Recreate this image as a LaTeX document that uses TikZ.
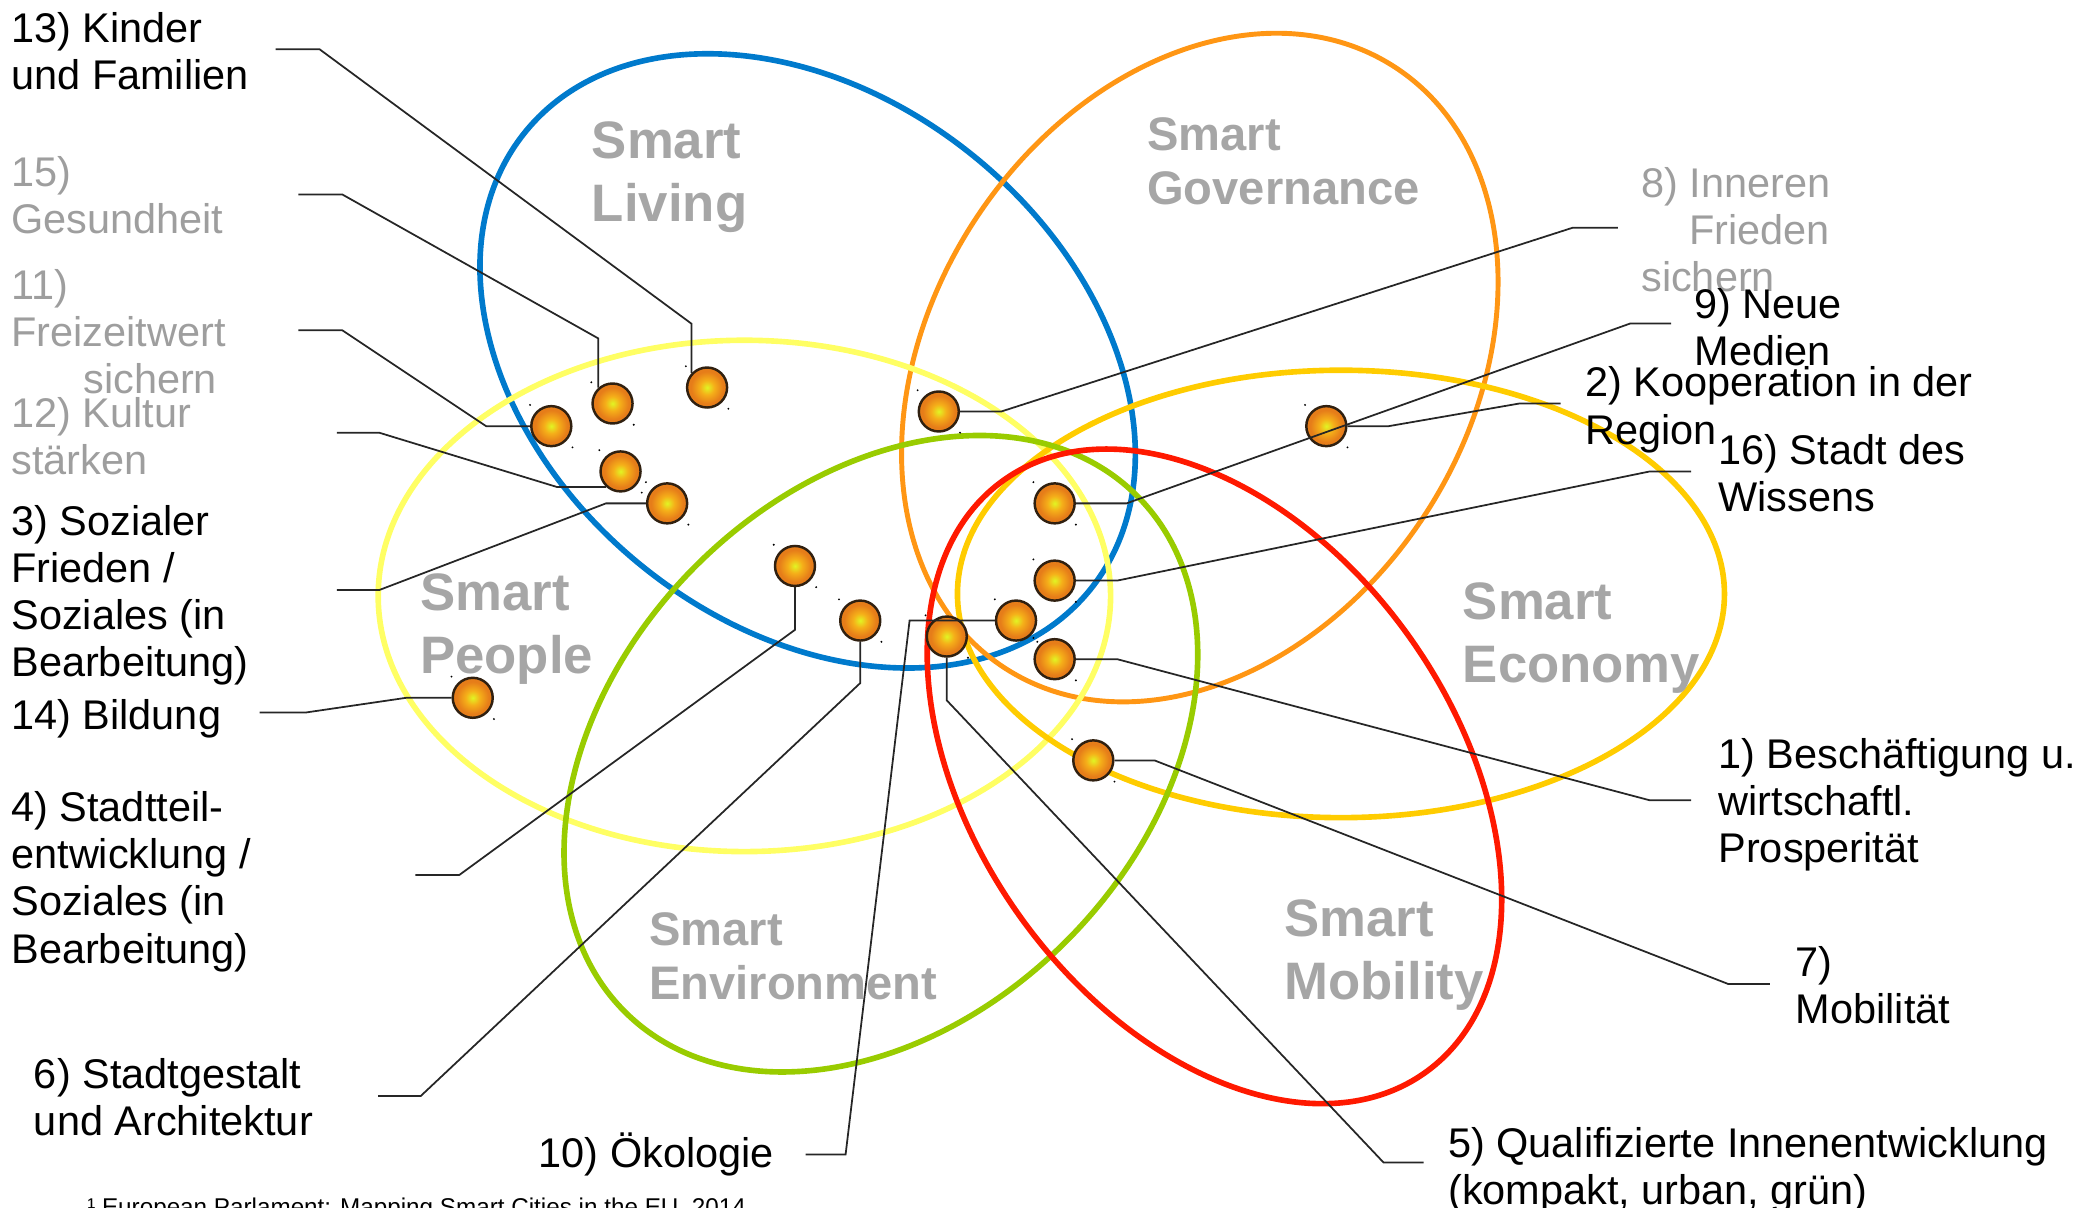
\documentclass[tikz,border=0pt]{standalone}
\usepackage{fontspec}
\setmainfont{Liberation Sans}
\definecolor{living}{RGB}{0,122,204}
\definecolor{governance}{RGB}{255,150,20}
\definecolor{people}{RGB}{255,255,100}
\definecolor{economy}{RGB}{255,204,0}
\definecolor{environment}{RGB}{153,204,0}
\definecolor{mobility}{RGB}{255,25,0}
\definecolor{catgray}{RGB}{166,166,166}
\definecolor{labgray}{RGB}{158,158,158}
\definecolor{dotin}{RGB}{225,245,35}
\definecolor{dotmid}{RGB}{245,175,25}
\definecolor{dotout}{RGB}{230,125,25}
\pgfdeclareradialshading{orb}{\pgfpoint{0bp}{0bp}}{color(0bp)=(dotin); color(9bp)=(dotmid);
  color(20bp)=(dotout); color(25bp)=(dotout); color(50bp)=(dotout)}
\tikzset{
  ring/.style= {line width=1.6pt},
  ball/.style= {draw=black!75!brown, circle, line width=0.7pt, minimum size=4mm, inner sep=0,
    shading=orb},
  lbl/.style= {anchor=north west, align=left, inner sep=0, font=\fontsize{11.8}{13.4}\selectfont},
  glbl/.style= {lbl, text=labgray},
  cat/.style= {anchor=north west, align=left, inner sep=0, text=catgray,
    font=\bfseries\fontsize{15}{18}\selectfont},
  smallcat/.style= {cat, font=\bfseries\fontsize{13.4}{15.3}\selectfont},
  lead/.style= {line width=0.5pt, black!85},
}

\begin{document}
\begin{tikzpicture}[x=0.13316mm, y=-0.13316mm]
  \useasboundingbox (0,0) rectangle (1568,907);

  \draw[ring, living, rotate around={-39:(606.5,271)}] (606.5,271) ellipse (273 and 198);
  \draw[ring, governance, line width=1.4pt, rotate around={57:(901,276)}] (901,276) ellipse (269 and 202);
  \draw[ring, people] (559,447.5) ellipse (275 and 192);
  \draw[ring, economy] (1007,446) ellipse (288 and 168);
  \draw[ring, environment, rotate around={45.4:(661.5,566)}] (661.5,566) ellipse (273 and 198);
  \draw[ring, mobility, rotate around={-54.6:(912,583)}] (912,583) ellipse (273 and 180);

  \node [cat] (living) at (444,91) {Smart\\Living};
  \node [smallcat] (governance) at (861,88) {Smart\\Governance};
  \node [cat] (people) at (315,430) {Smart\\People};
  \node [cat] (economy) at (1098,437) {Smart\\Economy};
  \node [smallcat] (environment) at (487,685) {Smart\\Environment};
  \node [cat] (mobility) at (964,675) {Smart\\Mobility};

  \node [lbl] (l13) at (8,9) {13) Kinder\\und Familien};
  \node [glbl] (l15) at (8,117) {15)\\Gesundheit};
  \node [glbl] (l11) at (8,202) {11)\\Freizeitwert\\\hspace*{7.2mm}sichern};
  \node [glbl] (l12) at (8,298) {12) Kultur\\stärken};
  \node [lbl] (l3) at (8,379) {3) Sozialer\\Frieden /\\Soziales (in\\Bearbeitung)};
  \node [lbl] (l14) at (8,525) {14) Bildung};
  \node [lbl] (l4) at (8,594) {4) Stadtteil-\\entwicklung /\\Soziales (in\\Bearbeitung)};
  \node [lbl] (l6) at (25,794) {6) Stadtgestalt\\und Architektur};
  \node [lbl, anchor=base west] (l10) at (404,877) {10) Ökologie};
  \node [glbl] (l8) at (1232,125) {8) Inneren\\\hspace*{4.8mm}Frieden\\sichern};
  \node [lbl] (l9) at (1272,216) {9) Neue\\Medien};
  \node [lbl] (l2) at (1190,275) {2) Kooperation in der\\Region};
  \node [lbl] (l16) at (1290,326) {16) Stadt des\\Wissens};
  \node [lbl] (l1) at (1290,554) {1) Beschäftigung u.\\wirtschaftl.\\Prosperität};
  \node [lbl] (l7) at (1348,710) {7)\\Mobilität};
  \node [lbl] (l5) at (1087,846) {5) Qualifizierte Innenentwicklung\\(kompakt, urban, grün)};
  \node [anchor=base west, inner sep=0, font=\fontsize{6.9}{8}\selectfont] (src) at (65,913)
    {¹ European Parlament: Mapping Smart Cities in the EU, 2014};

  \node [ball] (b13) at (531,291) {};
  \node [ball] (b15) at (460,303) {};
  \node [ball] (b11) at (414,320) {};
  \node [ball] (b12) at (466,354) {};
  \node [ball] (b3) at (501,378) {};
  \node [ball] (b14) at (355,524) {};
  \node [ball] (b4) at (597,425) {};
  \node [ball] (b6) at (646,466) {};
  \node [ball] (b10) at (763,466) {};
  \node [ball] (b5) at (711,478) {};
  \node [ball] (b8) at (705,309) {};
  \node [ball] (b9) at (792,378) {};
  \node [ball] (b2) at (996,320) {};
  \node [ball] (b16) at (792,436) {};
  \node [ball] (b1) at (792,495) {};
  \node [ball] (b7) at (821,571) {};
  \foreach \b in {13,15,11,12,3,14,4,6,10,5,8,9,2,16,1,7}
    \fill (b\b.west |- b\b.north) circle (0.3pt) (b\b.east |- b\b.south) circle (0.3pt);

  \coordinate (e13) at (207,37);
  \coordinate (e15) at (224,146);
  \coordinate (e11) at (224,248);
  \coordinate (e12) at (253,325);
  \coordinate (e3) at (253,443);
  \coordinate (e14) at (195,535);
  \coordinate (e4) at (312,657);
  \coordinate (e6) at (284,823);
  \coordinate (e10) at (605,867);
  \coordinate (e8) at (1215,171);
  \coordinate (e9) at (1255,243);
  \coordinate (e2) at (1172,303);
  \coordinate (e16) at (1270,354);
  \coordinate (e1) at (1270,601);
  \coordinate (e7) at (1329,739);
  \coordinate (e5) at (1069,873);

  \draw[lead] (b13.137) -- ++(0,-37) -- (240,37) -- (e13);
  \draw[lead] (b15.132) -- ++(0,-37) -- (257,146) -- (e15);
  \draw[lead] (b11.west) -- ++(-33,0) -- (257,248) -- (e11);
  \draw[lead] (b12.227) -- ++(-37,0) -- (285,325) -- (e12);
  \draw[lead] (b3.west) -- ++(-30,0) -- (285,443) -- (e3);
  \draw[lead] (b14.west) -- ++(-34,0) -- (230,535) -- (e14);
  \draw[lead] (b4.south) -- ++(0,32) -- (345,657) -- (e4);
  \draw[lead] (b6.south) -- ++(0,31) -- (316,823) -- (e6);
  \draw[lead] (b10.west) -- ++(-64,0) -- (635,867) -- (e10);
  \draw[lead] (b5.south) -- ++(0,32) -- (1039,873) -- (e5);
  \draw[lead] (b8.east) -- ++(31,0) -- (1181,171) -- (e8);
  \draw[lead] (b9.east) -- ++(38,0) -- (1224,243) -- (e9);
  \draw[lead] (b2.east) -- ++(31,0) -- (1141,303) -- (e2);
  \draw[lead] (b16.east) -- ++(31,0) -- (1239,354) -- (e16);
  \draw[lead] (b1.east) -- ++(31,0) -- (1239,601) -- (e1);
  \draw[lead] (b7.east) -- ++(30,0) -- (1298,739) -- (e7);
\end{tikzpicture}
\end{document}
